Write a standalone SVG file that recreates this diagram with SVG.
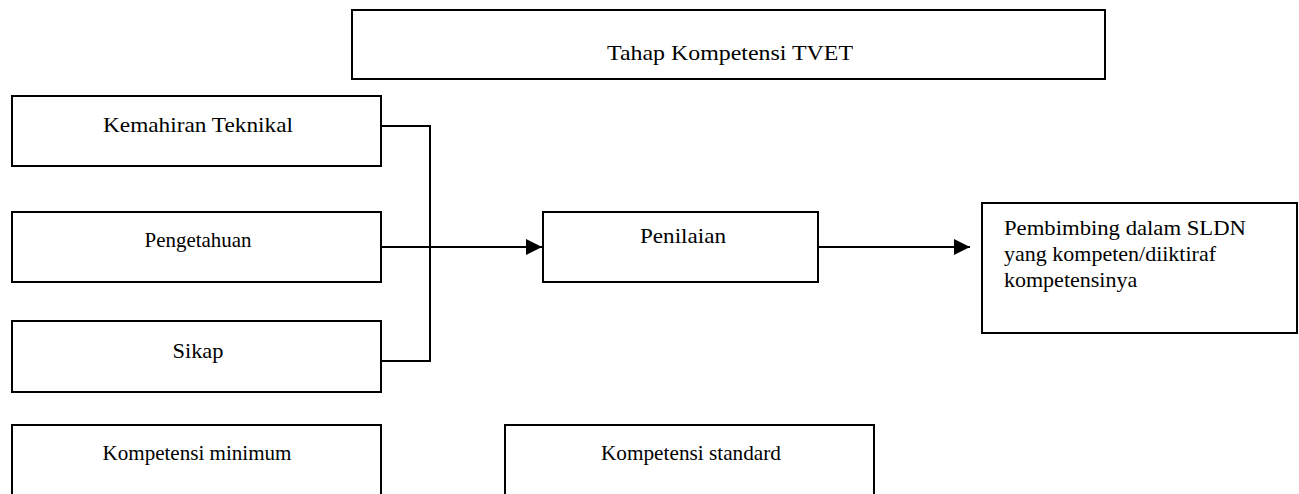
<svg xmlns="http://www.w3.org/2000/svg" width="1299" height="494" viewBox="0 0 1299 494">
<style>
.box{fill:#fff;stroke:#000;stroke-width:2}
.t{font-family:"Liberation Serif","Times New Roman",serif;font-size:22px;fill:#000}
.c{text-anchor:middle}
.line{fill:none;stroke:#000;stroke-width:2}
</style>
<defs>
<marker id="arr" markerWidth="16" markerHeight="16" refX="16" refY="8" orient="auto" markerUnits="userSpaceOnUse" viewBox="0 0 16 16">
<path d="M0,0 L16,8 L0,16 Z" fill="#000"/>
</marker>
</defs>
<rect width="1299" height="494" fill="#fff"/>
<g id="tahap">
<rect class="box" x="352" y="10" width="753" height="69"/>
<text class="t c" x="730" y="60" textLength="246" lengthAdjust="spacingAndGlyphs">Tahap Kompetensi TVET</text>
</g>
<g id="kemahiran">
<rect class="box" x="12" y="96" width="369" height="70"/>
<text class="t c" x="198" y="132" textLength="190" lengthAdjust="spacingAndGlyphs">Kemahiran Teknikal</text>
</g>
<g id="pengetahuan">
<rect class="box" x="12" y="212" width="369" height="70"/>
<text class="t c" x="198" y="247" textLength="107" lengthAdjust="spacingAndGlyphs">Pengetahuan</text>
</g>
<g id="sikap">
<rect class="box" x="12" y="321" width="369" height="71"/>
<text class="t c" x="198" y="358" textLength="51" lengthAdjust="spacingAndGlyphs">Sikap</text>
</g>
<g id="penilaian">
<rect class="box" x="543" y="212" width="275" height="70"/>
<text class="t c" x="683" y="243" textLength="86" lengthAdjust="spacingAndGlyphs">Penilaian</text>
</g>
<g id="pembimbing">
<rect class="box" x="982" y="203" width="315" height="130"/>
<text class="t" x="1004" y="235" textLength="242" lengthAdjust="spacingAndGlyphs">Pembimbing dalam SLDN</text>
<text class="t" x="1004" y="261">yang kompeten/diiktiraf</text>
<text class="t" x="1004" y="287">kompetensinya</text>
</g>
<g id="minimum">
<rect class="box" x="12" y="425" width="369" height="80"/>
<text class="t c" x="197" y="460" textLength="189" lengthAdjust="spacingAndGlyphs">Kompetensi minimum</text>
</g>
<g id="standard">
<rect class="box" x="505" y="425" width="369" height="80"/>
<text class="t c" x="691" y="460" textLength="180" lengthAdjust="spacingAndGlyphs">Kompetensi standard</text>
</g>
<g id="connectors">
<path class="line" d="M381,126 H430 V361 H381"/>
<path class="line" d="M381,247 H542" marker-end="url(#arr)"/>
<path class="line" d="M818,247 H970" marker-end="url(#arr)"/>
</g>
</svg>
